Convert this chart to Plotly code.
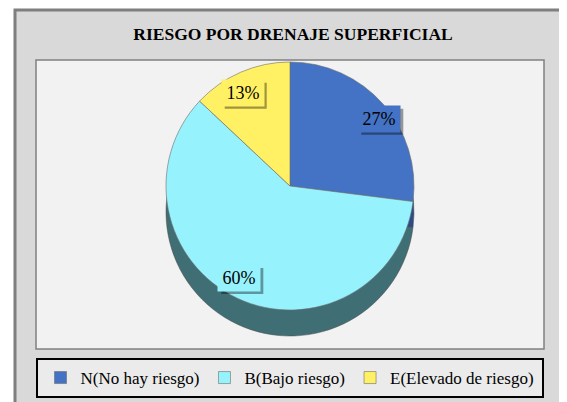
import math
import plotly.graph_objects as go

categories = ["N(No hay riesgo)", "B(Bajo riesgo)", "E(Elevado de riesgo)"]
values = [27, 60, 13]
top_colors = ["#4472C4", "#96F2FC", "#FFF064"]
side_colors = ["#2D4C86", "#3F6E74", "#9C9437"]
title_text = "RIESGO POR DRENAJE SUPERFICIAL"

# the page has an 8px body margin
OFF = 8
W, H = 567 - OFF, 402 - OFF
def px_x(v): return (v - OFF) / W
def px_y(v): return 1 - (v - OFF) / H

SERIF = "Liberation Serif, Times New Roman, serif"
cx, cy, r, depth = 290, 186, 124, 26
label_fx, label_fy = 0.96, 0.82
box_w, box_h, pad, sh = 36, 20, 3, 3

fig = go.Figure()
# side (depth) of the pseudo-3D pie
fig.add_trace(go.Pie(
    labels=categories, values=values, sort=False, direction="clockwise", rotation=0,
    marker=dict(colors=side_colors, line=dict(color="#4a4a4a", width=0.5)),
    textinfo="none", hoverinfo="skip", showlegend=False,
    domain=dict(x=[px_x(cx - r), px_x(cx + r)], y=[px_y(cy + r + depth), px_y(cy - r + depth)]),
))
# top face
fig.add_trace(go.Pie(
    labels=categories, values=values, sort=False, direction="clockwise", rotation=0,
    marker=dict(colors=top_colors, line=dict(color="#6d6d6d", width=0.6)),
    textinfo="none",
    domain=dict(x=[px_x(cx - r), px_x(cx + r)], y=[px_y(cy + r), px_y(cy - r)]),
))

shapes = [
    dict(type="rect", xref="paper", yref="paper", x0=px_x(15), x1=px_x(600), y0=px_y(430), y1=px_y(10),
         fillcolor="#d9d9d9", line=dict(color="#7f7f7f", width=3), layer="below"),
    dict(type="rect", xref="paper", yref="paper", x0=px_x(36), x1=px_x(544), y0=px_y(349), y1=px_y(60),
         fillcolor="#f2f2f2", line=dict(color="#808080", width=1.5), layer="below"),
    dict(type="rect", xref="paper", yref="paper", x0=px_x(37), x1=px_x(543), y0=px_y(397), y1=px_y(359),
         fillcolor="#ebebeb", line=dict(color="#000000", width=2), layer="below"),
]

# data labels with a box shadow, placed at each slice's mid angle
annotations = []
total = sum(values)
start = 0.0
for v, col in zip(values, top_colors):
    mid = (start + v / 2) / total * 2 * math.pi
    start += v
    lx = cx + label_fx * r * math.sin(mid)
    ly = cy - label_fy * r * math.cos(mid)
    pct = f"{round(v / total * 100)}%"
    bw, bh = box_w + 2 * pad, box_h + 2 * pad
    shapes.append(dict(
        type="rect", xref="paper", yref="paper", layer="above",
        x0=px_x(lx - bw / 2 + sh), x1=px_x(lx + bw / 2 + sh),
        y0=px_y(ly + bh / 2 + sh), y1=px_y(ly - bh / 2 + sh),
        fillcolor="rgba(0,0,0,0.38)", line=dict(width=0)))
    annotations.append(dict(
        x=px_x(lx), y=px_y(ly), xref="paper", yref="paper", showarrow=False,
        xanchor="center", yanchor="middle", width=box_w, height=box_h,
        text=pct, font=dict(family=SERIF, size=18, color="#000000"),
        bgcolor=col, borderpad=pad))

fig.update_layout(
    width=W, height=H,
    margin=dict(l=0, r=0, t=0, b=0),
    paper_bgcolor="#ffffff",
    shapes=shapes,
    annotations=annotations,
    title=dict(text="<b>" + title_text + "</b>", x=px_x(293), xanchor="center", y=px_y(34), yanchor="middle",
               font=dict(family=SERIF, size=17.5, color="#000000")),
    legend=dict(orientation="h", x=px_x(290), xanchor="center", y=px_y(378), yanchor="middle",
                bgcolor="rgba(0,0,0,0)", borderwidth=0,
                font=dict(family=SERIF, size=17, color="#000000"),
                itemwidth=30, tracegroupgap=0),
    showlegend=True,
)

fig.write_html("out.html")
